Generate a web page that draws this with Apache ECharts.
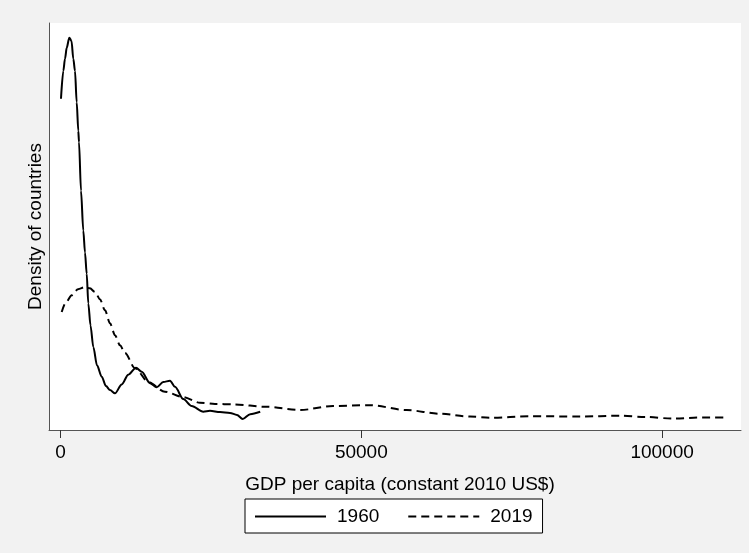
<!DOCTYPE html>
<html>
<head>
<meta charset="utf-8">
<script src="https://cdn.jsdelivr.net/npm/echarts@6/dist/echarts.min.js"></script>
<style>
html,body{margin:0;padding:0;background:#f2f2f2;}
#chart{width:749px;height:553px;}
</style>
</head>
<body>
<div id="chart"></div>
<script>
// GDP per capita (constant 2010 US$) and kernel density (units of 1e-5)
const gdp1960 = [80, 465, 748, 1031, 1463, 1828, 2128, 2410, 2693, 2959, 3075, 3408, 3790, 4072, 4355, 4621, 4987, 5452, 6067, 6848, 7563, 8228, 9059, 10173, 11270, 12550, 13497, 14877, 15990, 17087, 18201, 19032, 20412, 21808, 23736, 24850, 26512, 28174, 29338, 30285, 31532, 33194];
const dens1960 = [8.14, 8.82, 9.12, 9.39, 9.64, 9.56, 9.12, 8.82, 8.05, 7.35, 7.07, 5.88, 4.90, 4.36, 3.84, 3.11, 2.57, 2.04, 1.59, 1.31, 1.08, 0.98, 0.90, 1.12, 1.36, 1.53, 1.43, 1.15, 1.05, 1.18, 1.21, 1.06, 0.76, 0.59, 0.45, 0.47, 0.44, 0.42, 0.37, 0.27, 0.39, 0.45];
const gdp2019 = [199, 914, 1862, 2909, 4072, 4903, 5735, 6566, 7397, 8228, 9059, 9890, 10721, 12383, 14594, 17360, 20362, 23187, 25681, 28723, 34274, 39809, 45295, 51445, 57545, 63080, 68067, 71391, 78040, 86351, 92999, 97155, 101859, 106846, 110786];
const dens2019 = [2.90, 3.14, 3.31, 3.46, 3.51, 3.48, 3.39, 3.21, 2.94, 2.62, 2.33, 2.08, 1.89, 1.52, 1.18, 0.94, 0.81, 0.67, 0.64, 0.63, 0.57, 0.49, 0.59, 0.61, 0.49, 0.40, 0.33, 0.30, 0.34, 0.33, 0.35, 0.32, 0.28, 0.31, 0.31];
const xTicks = [0, 50000, 100000];
const seriesNames = ['1960', '2019'];
const xTitle = 'GDP per capita (constant 2010 US$)';
const yTitle = 'Density of countries';

const pair = (xs, ys) => xs.map((x, i) => [x, ys[i]]);
const font = '"Liberation Sans", Arial, sans-serif';

const chart = echarts.init(document.getElementById('chart'), null, {renderer: 'canvas'});
chart.setOption({
  backgroundColor: '#f2f2f2',
  animation: false,
  grid: {left: 49, right: 8, top: 23, bottom: 123, show: true, backgroundColor: '#ffffff', borderWidth: 0, containLabel: false},
  xAxis: {
    type: 'value', min: -1912, max: 113112,
    name: xTitle, nameLocation: 'middle', nameGap: 45,
    nameTextStyle: {fontFamily: font, fontSize: 19, color: '#000', padding: [0, 0, 0, 10]},
    axisLine: {show: true, onZero: false, lineStyle: {color: '#555', width: 1}},
    axisTick: {show: true, length: 8, lineStyle: {color: '#333'}, customValues: xTicks},
    axisLabel: {fontFamily: font, fontSize: 19, color: '#000', margin: 13, customValues: xTicks,
                formatter: v => String(v)},
    splitLine: {show: false}
  },
  yAxis: {
    type: 'value', min: 0, max: 10,
    name: yTitle, nameLocation: 'middle', nameGap: 4, nameRotate: 90,
    nameTextStyle: {fontFamily: font, fontSize: 19, color: '#000'},
    axisLine: {show: true, onZero: false, lineStyle: {color: '#555', width: 1}},
    axisTick: {show: false}, axisLabel: {show: false}, splitLine: {show: false}
  },
  legend: {
    data: seriesNames, left: 245, top: 499, orient: 'horizontal',
    backgroundColor: '#fff', borderColor: '#000', borderWidth: 1,
    padding: [8, 10, 7, 9], itemWidth: 71, itemHeight: 14, itemGap: 28,
    itemStyle: {opacity: 0, borderWidth: 0},
    textStyle: {fontFamily: font, fontSize: 19, color: '#000', padding: [0, 0, 0, 6]}
  },
  series: [
    {name: seriesNames[0], type: 'line', data: pair(gdp1960, dens1960), symbol: 'none', smooth: 0.3, smoothMonotone: 'x',
     lineStyle: {color: '#000', width: 2, type: 'solid'}, itemStyle: {color: '#000'}},
    {name: seriesNames[1], type: 'line', data: pair(gdp2019, dens2019), symbol: 'none', smooth: 0.3, smoothMonotone: 'x',
     lineStyle: {color: '#000', width: 2, type: [8, 5]}, itemStyle: {color: '#000'}}
  ]
});
</script>
</body>
</html>
